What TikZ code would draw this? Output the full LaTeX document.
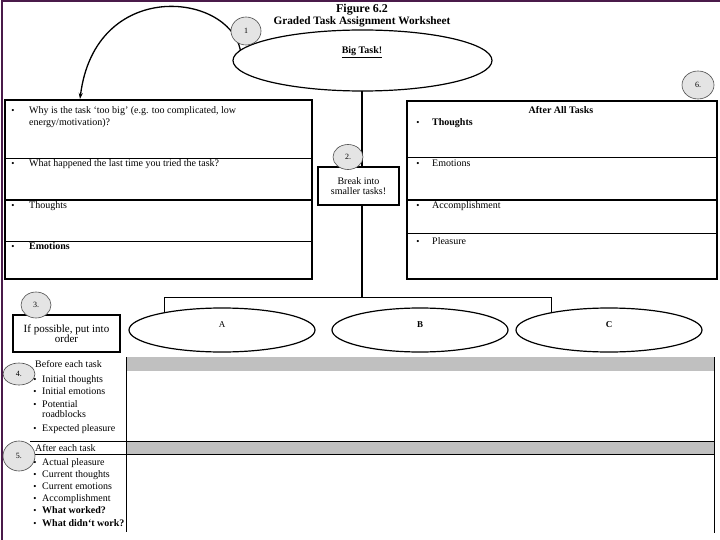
\documentclass[tikz,border=0pt]{standalone}
\usepackage{fontspec}
\setmainfont{Liberation Serif}
\usetikzlibrary{shapes.geometric,arrows.meta}
\definecolor{framepurple}{HTML}{4A1A4A}
\definecolor{bandgray}{HTML}{C0C0C0}
\definecolor{numgray}{HTML}{E4E4E4}
\tikzset{
  oval/.style={ellipse,draw,fill=white,line width=1.2pt,inner sep=0pt},
  numcirc/.style={ellipse,draw=black!70,fill=numgray,line width=0.6pt,inner sep=0pt,font=\fontsize{8}{9}\selectfont},
  boxline/.style={line width=1.2pt},
  txt/.style={anchor=base west,inner sep=0pt,font=\fontsize{10}{11}\selectfont},
  ctxt/.style={anchor=base,inner sep=0pt,font=\fontsize{10}{11}\selectfont},
  bul/.style={anchor=base,inner sep=0pt,font=\fontsize{9}{10}\selectfont},
  conn/.style={line width=1.8pt},
}
\begin{document}
\begin{tikzpicture}[x=1pt,y=-1pt]
\useasboundingbox (0,0) rectangle (720,540);
% frame
\draw[framepurple,line width=1.5pt] (2,540) -- (2,1) -- (720,1);
% title
\node[anchor=base,inner sep=0pt,font=\fontsize{12}{13}\selectfont\bfseries] (fig) at (362,13) {Figure 6.2};
\node[anchor=base,inner sep=0pt,font=\fontsize{11.3}{12}\selectfont\bfseries] (ttl) at (362,25) {Graded Task Assignment Worksheet};
% connectors from big task
\coordinate (barL) at (164,297);
\coordinate (barR) at (551,297);
\coordinate (barM) at (362,297);
\draw[conn] (362,88) -- (barM);
\draw[line width=1pt] (164,325) -- (barL) -- (barR) -- (551,325);
% big ellipse
\node[oval,minimum width=259pt,minimum height=61pt] (big) at (362.5,60.5) {};
\node[anchor=base,inner sep=0pt,font=\fontsize{10}{11}\selectfont\bfseries] (bigt) at (362,54) {\underline{Big Task!}};
% arrow
\draw[line width=1.3pt,-{Stealth[length=6pt,width=4pt]}] (big.175) .. controls (228,-8) and (95,-22) .. (80,99);
\node[numcirc,minimum width=30pt,minimum height=28pt] (n1) at (246,31) {1};
% left box
\node[draw,boxline,minimum width=307pt,minimum height=179pt,inner sep=0pt] (lbox) at (158.5,189.5) {};
\draw[line width=1pt] (5,159) -- (312,159);
\draw[line width=1.6pt] (5,200) -- (312,200);
\draw[line width=1pt] (5,241) -- (312,241);
\node[bul] (lb1) at (13,114) {•};
\node[txt] (lt1) at (29,114) {Why is the task `too big' (e.g. too complicated, low};
\node[txt] (lt1b) at (29,126) {energy/motivation)?};
\node[bul] (lb2) at (13,167) {•};
\node[txt] (lt2) at (29,167) {What happened the last time you tried the task?};
\node[bul] (lb3) at (13,208) {•};
\node[txt] (lt3) at (29,208) {Thoughts};
\node[bul] (lb4) at (13,249) {•};
\node[txt] (lt4) at (29,249) {\bfseries Emotions};
% right box
\node[draw,boxline,minimum width=310pt,minimum height=178pt,inner sep=0pt] (rbox) at (562,190) {};
\draw[line width=1pt] (407,158) -- (717,158);
\draw[line width=1.6pt] (407,200) -- (717,200);
\draw[line width=1pt] (407,233) -- (717,233);
\node[ctxt,font=\fontsize{10}{11}\selectfont\bfseries] (rt0) at (561,114) {After All Tasks};
\node[bul] (rb1) at (418,126) {•};
\node[txt] (rt1) at (432,126) {\bfseries Thoughts};
\node[bul] (rb2) at (418,167) {•};
\node[txt] (rt2) at (432,167) {Emotions};
\node[bul] (rb3) at (418,208) {•};
\node[txt] (rt3) at (432,208) {Accomplishment};
\node[bul] (rb4) at (418,244) {•};
\node[txt] (rt4) at (432,244) {Pleasure};
\node[numcirc,minimum width=32pt,minimum height=28pt] (n6) at (698,85) {6.};
% break box
\node[draw,fill=white,line width=2pt,minimum width=81pt,minimum height=38pt,inner sep=0pt,align=center,font=\fontsize{10}{10}\selectfont] (brk) at (358.5,186) {Break into\\smaller tasks!};
\node[numcirc,minimum width=30pt,minimum height=25pt] (n2) at (348,157) {2.};
% subtask ellipses
\node[oval,minimum width=186pt,minimum height=44pt] (A) at (222,330) {};
\node[oval,minimum width=176pt,minimum height=44pt] (B) at (420,330) {};
\node[oval,minimum width=186pt,minimum height=44pt] (C) at (609,330) {};
\node[ctxt,font=\fontsize{9}{9}\selectfont] (At) at (222,327) {A};
\node[ctxt,font=\fontsize{9}{9}\selectfont\bfseries] (Bt) at (420,327) {B};
\node[ctxt,font=\fontsize{9}{9}\selectfont\bfseries] (Ct) at (609,327) {C};
% order box
\node[draw,fill=white,line width=1.5pt,minimum width=107pt,minimum height=37pt,inner sep=0pt,align=center,font=\fontsize{11}{10.5}\selectfont] (ord) at (66.5,333.5) {If possible, put into\\order};
\node[numcirc,minimum width=30pt,minimum height=26pt] (n3) at (36,305) {3.};
% bottom table
\fill[bandgray] (127,357) rectangle (714,371);
\fill[bandgray] (127,441) rectangle (714,454);
\draw[line width=1pt] (30,441) -- (714,441);
\draw[line width=1pt] (30,454) -- (714,454);
\draw[line width=1pt] (126,357) -- (126,532);
\draw[line width=1pt] (714,357) -- (714,533);
\tikzset{btxt/.style={anchor=base west,inner sep=0pt,font=\fontsize{10}{11}\selectfont}}
\node[btxt] (b0) at (35,367) {Before each task};
\node[bul] (bb1) at (35,382) {•}; \node[btxt] (b1) at (42,382) {Initial thoughts};
\node[bul] (bb2) at (35,394) {•}; \node[btxt] (b2) at (42,394) {Initial emotions};
\node[bul] (bb3) at (35,407) {•}; \node[btxt] (b3) at (42,407) {Potential};
\node[btxt] (b3b) at (42,417) {roadblocks};
\node[bul] (bb4) at (35,431) {•}; \node[btxt] (b4) at (42,431) {Expected pleasure};
\node[btxt] (c0) at (35,451) {After each task};
\node[bul] (cb1) at (35,465) {•}; \node[btxt] (c1) at (42,465) {Actual pleasure};
\node[bul] (cb2) at (35,477) {•}; \node[btxt] (c2) at (42,477) {Current thoughts};
\node[bul] (cb3) at (35,489) {•}; \node[btxt] (c3) at (42,489) {Current emotions};
\node[bul] (cb4) at (35,501) {•}; \node[btxt] (c4) at (42,501) {Accomplishment};
\node[bul] (cb5) at (35,513) {•}; \node[btxt] (c5) at (42,513) {\bfseries What worked?};
\node[bul] (cb6) at (35,526) {•}; \node[btxt] (c6) at (42,526) {\bfseries What didn`t work?};
\node[numcirc,minimum width=32pt,minimum height=22pt] (n4) at (19,374) {4.};
\node[numcirc,minimum width=32pt,minimum height=30pt] (n5) at (19,456) {5.};
\end{tikzpicture}
\end{document}
